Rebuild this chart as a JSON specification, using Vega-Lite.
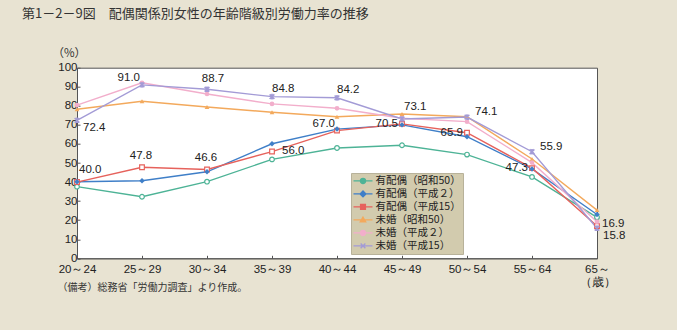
{
  "$schema": "https://vega.github.io/schema/vega-lite/v6.json",
  "width": 520,
  "height": 190.6,
  "autosize": {"type": "none"},
  "padding": {"left": 77, "top": 67.7, "right": 80, "bottom": 71.7},
  "background": "#e8e3d2",
  "config": {
    "view": {"fill": "white", "stroke": "#555555", "strokeWidth": 1},
    "font": "Liberation Sans"
  },
  "title": {
    "text": "第1－2－9図　配偶関係別女性の年齢階級別労働力率の推移",
    "anchor": "start",
    "frame": "group",
    "font": "Noto Sans CJK JP",
    "fontSize": 13,
    "fontWeight": "normal",
    "color": "#333333",
    "dx": -55,
    "dy": -27,
    "offset": 0
  },
  "data": {
    "values": [
      {"series": "有配偶（昭和50）", "age": "20～24", "value": 37.6},
      {"series": "有配偶（昭和50）", "age": "25～29", "value": 32.3},
      {"series": "有配偶（昭和50）", "age": "30～34", "value": 40.2},
      {"series": "有配偶（昭和50）", "age": "35～39", "value": 51.9},
      {"series": "有配偶（昭和50）", "age": "40～44", "value": 57.9},
      {"series": "有配偶（昭和50）", "age": "45～49", "value": 59.3},
      {"series": "有配偶（昭和50）", "age": "50～54", "value": 54.4},
      {"series": "有配偶（昭和50）", "age": "55～64", "value": 42.7},
      {"series": "有配偶（昭和50）", "age": "65～", "value": 21.5},
      {"series": "有配偶（平成２）", "age": "20～24", "value": 40.2},
      {"series": "有配偶（平成２）", "age": "25～29", "value": 40.7},
      {"series": "有配偶（平成２）", "age": "30～34", "value": 45.4},
      {"series": "有配偶（平成２）", "age": "35～39", "value": 60.1},
      {"series": "有配偶（平成２）", "age": "40～44", "value": 67.8},
      {"series": "有配偶（平成２）", "age": "45～49", "value": 70.0},
      {"series": "有配偶（平成２）", "age": "50～54", "value": 63.8},
      {"series": "有配偶（平成２）", "age": "55～64", "value": 46.9},
      {"series": "有配偶（平成２）", "age": "65～", "value": 23.0},
      {"series": "有配偶（平成15）", "age": "20～24", "value": 40.0},
      {"series": "有配偶（平成15）", "age": "25～29", "value": 47.8},
      {"series": "有配偶（平成15）", "age": "30～34", "value": 46.6},
      {"series": "有配偶（平成15）", "age": "35～39", "value": 56.0},
      {"series": "有配偶（平成15）", "age": "40～44", "value": 67.0},
      {"series": "有配偶（平成15）", "age": "45～49", "value": 70.5},
      {"series": "有配偶（平成15）", "age": "50～54", "value": 65.9},
      {"series": "有配偶（平成15）", "age": "55～64", "value": 47.3},
      {"series": "有配偶（平成15）", "age": "65～", "value": 16.9},
      {"series": "未婚（昭和50）", "age": "20～24", "value": 78.2},
      {"series": "未婚（昭和50）", "age": "25～29", "value": 82.4},
      {"series": "未婚（昭和50）", "age": "30～34", "value": 79.4},
      {"series": "未婚（昭和50）", "age": "35～39", "value": 76.6},
      {"series": "未婚（昭和50）", "age": "40～44", "value": 74.3},
      {"series": "未婚（昭和50）", "age": "45～49", "value": 75.7},
      {"series": "未婚（昭和50）", "age": "50～54", "value": 74.3},
      {"series": "未婚（昭和50）", "age": "55～64", "value": 52.1},
      {"series": "未婚（昭和50）", "age": "65～", "value": 25.3},
      {"series": "未婚（平成２）", "age": "20～24", "value": 80.4},
      {"series": "未婚（平成２）", "age": "25～29", "value": 92.1},
      {"series": "未婚（平成２）", "age": "30～34", "value": 86.2},
      {"series": "未婚（平成２）", "age": "35～39", "value": 81.0},
      {"series": "未婚（平成２）", "age": "40～44", "value": 78.7},
      {"series": "未婚（平成２）", "age": "45～49", "value": 73.5},
      {"series": "未婚（平成２）", "age": "50～54", "value": 71.7},
      {"series": "未婚（平成２）", "age": "55～64", "value": 50.2},
      {"series": "未婚（平成２）", "age": "65～", "value": 19.2},
      {"series": "未婚（平成15）", "age": "20～24", "value": 72.4},
      {"series": "未婚（平成15）", "age": "25～29", "value": 91.0},
      {"series": "未婚（平成15）", "age": "30～34", "value": 88.7},
      {"series": "未婚（平成15）", "age": "35～39", "value": 84.8},
      {"series": "未婚（平成15）", "age": "40～44", "value": 84.2},
      {"series": "未婚（平成15）", "age": "45～49", "value": 73.1},
      {"series": "未婚（平成15）", "age": "50～54", "value": 74.1},
      {"series": "未婚（平成15）", "age": "55～64", "value": 55.9},
      {"series": "未婚（平成15）", "age": "65～", "value": 15.8}
    ]
  },
  "encoding": {
    "x": {
      "field": "age",
      "type": "ordinal",
      "sort": ["20～24", "25～29", "30～34", "35～39", "40～44", "45～49", "50～54", "55～64", "65～"],
      "scale": {"type": "point", "padding": 0},
      "axis": {
        "labelAngle": 0,
        "labelFont": "Liberation Sans",
        "labelFontSize": 11.5,
        "labelColor": "#222222",
        "labelPadding": 8,
        "labelLineHeight": 13,
        "labelExpr": "datum.value === '65～' ? ['65～', '　 （歳）'] : datum.value",
        "domainColor": "#555555",
        "tickColor": "#555555",
        "tickSize": -3,
        "title": "（備考）総務省「労働力調査」より作成。",
        "titleFont": "Noto Sans CJK JP",
        "titleFontSize": 10,
        "titleFontWeight": "normal",
        "titleColor": "#333333",
        "titleAlign": "left",
        "titleBaseline": "alphabetic",
        "titleX": -20,
        "titleY": 32
      }
    },
    "y": {
      "field": "value",
      "type": "quantitative",
      "scale": {"domain": [0, 100], "nice": false},
      "axis": {
        "values": [0, 10, 20, 30, 40, 50, 60, 70, 80, 90, 100],
        "grid": false,
        "labelFont": "Liberation Sans",
        "labelFontSize": 11.5,
        "labelColor": "#222222",
        "labelPadding": 3,
        "domainColor": "#555555",
        "tickColor": "#555555",
        "tickSize": -3,
        "title": "（%）",
        "titleFont": "Noto Sans CJK JP",
        "titleFontSize": 11.5,
        "titleFontWeight": "normal",
        "titleColor": "#333333",
        "titleAngle": 0,
        "titleAlign": "left",
        "titleBaseline": "alphabetic",
        "titleX": -25,
        "titleY": -11
      }
    }
  },
  "layer": [
    {
      "mark": {"type": "line", "strokeWidth": 1.4},
      "encoding": {
        "color": {
          "field": "series",
          "type": "nominal",
          "scale": {
            "domain": ["有配偶（昭和50）", "有配偶（平成２）", "有配偶（平成15）", "未婚（昭和50）", "未婚（平成２）", "未婚（平成15）"],
            "range": ["#4db396", "#3f7fc8", "#e6625c", "#f3a95c", "#f2aecb", "#a39bd6"]
          },
          "legend": {
            "orient": "none",
            "legendX": 274,
            "legendY": 105.3,
            "title": null,
            "fillColor": "#d2cbae",
            "strokeColor": "#b8b29a",
            "padding": 1.5,
            "labelFont": "Noto Sans CJK JP",
            "labelFontSize": 10.5,
            "labelColor": "#222222",
            "labelOffset": 2,
            "symbolSize": 361,
            "symbolStrokeWidth": 1.4,
            "clipHeight": 12.8,
            "rowPadding": 0,
            "encode": {
              "symbols": {
                "update": {
                  "shape": {"signal": "datum.value === '有配偶（昭和50）' ? 'M-1,0H-0.27M0.27,0H1M0.27,0A0.27,0.27 0 1,1 -0.27,0A0.27,0.27 0 1,1 0.27,0Z' : datum.value === '有配偶（平成２）' ? 'M-1,0H1M0,-0.3L0.3,0L0,0.3L-0.3,0Z' : datum.value === '有配偶（平成15）' ? 'M-1,0H-0.25M0.25,0H1M-0.25,-0.25H0.25V0.25H-0.25Z' : datum.value === '未婚（昭和50）' ? 'M-1,0H1M0,-0.28L0.28,0.2L-0.28,0.2Z' : datum.value === '未婚（平成２）' ? 'M-1,0H1M0.25,0A0.25,0.25 0 1,1 -0.25,0A0.25,0.25 0 1,1 0.25,0Z' : 'M-1,0H1M-0.25,-0.25L0.25,0.25M-0.25,0.25L0.25,-0.25'"},
                  "fill": {"signal": "(datum.value === '有配偶（昭和50）' || datum.value === '有配偶（平成15）') ? 'white' : scale('color', datum.value)"}
                }
              }
            }
          }
        }
      }
    },
    {
      "transform": [{"filter": "datum.series === '有配偶（昭和50）' || datum.series === '有配偶（平成15）'"}],
      "mark": {"type": "point", "filled": false, "fill": "white", "size": 22, "strokeWidth": 1.2, "opacity": 1},
      "encoding": {
        "shape": {"field": "series", "type": "nominal", "scale": {"domain": ["有配偶（昭和50）", "有配偶（平成15）"], "range": ["circle", "square"]}, "legend": null},
        "color": {"field": "series", "type": "nominal", "legend": null}
      }
    },
    {
      "transform": [{"filter": "datum.series === '有配偶（平成２）'"}],
      "mark": {"type": "point", "filled": true, "shape": "diamond", "size": 30, "opacity": 1},
      "encoding": {"color": {"field": "series", "type": "nominal", "legend": null}}
    },
    {
      "transform": [{"filter": "datum.series === '未婚（昭和50）'"}],
      "mark": {"type": "point", "filled": true, "shape": "triangle-up", "size": 22, "opacity": 1},
      "encoding": {"color": {"field": "series", "type": "nominal", "legend": null}}
    },
    {
      "transform": [{"filter": "datum.series === '未婚（平成２）'"}],
      "mark": {"type": "point", "filled": true, "shape": "circle", "size": 22, "opacity": 1},
      "encoding": {"color": {"field": "series", "type": "nominal", "legend": null}}
    },
    {
      "transform": [{"filter": "datum.series === '未婚（平成15）'"}],
      "mark": {"type": "point", "filled": false, "shape": "M-1,-1L1,1M-1,1L1,-1M0,-1.2L0,1.2", "size": 22, "strokeWidth": 1.6, "opacity": 1},
      "encoding": {"color": {"field": "series", "type": "nominal", "legend": null}}
    },
    {
      "transform": [{"filter": "(datum.series === '有配偶（平成15）' && datum.age === '20～24') || (datum.series === '未婚（平成15）' && datum.age === '45～49')"}],
      "mark": {"type": "text", "align": "left", "baseline": "middle", "dx": 2, "dy": -12, "fontSize": 11.5, "color": "#222222"},
      "encoding": {"text": {"field": "value", "type": "quantitative", "format": ".1f"}}
    },
    {
      "transform": [{"filter": "datum.series === '有配偶（平成15）' && (datum.age === '25～29' || datum.age === '30～34')"}],
      "mark": {"type": "text", "align": "center", "baseline": "middle", "dx": -1, "dy": -11, "fontSize": 11.5, "color": "#222222"},
      "encoding": {"text": {"field": "value", "type": "quantitative", "format": ".1f"}}
    },
    {
      "transform": [{"filter": "datum.series === '未婚（平成15）' && (datum.age === '35～39' || datum.age === '40～44')"}],
      "mark": {"type": "text", "align": "left", "baseline": "middle", "dx": 0, "dy": -8, "fontSize": 11.5, "color": "#222222"},
      "encoding": {"text": {"field": "value", "type": "quantitative", "format": ".1f"}}
    },
    {
      "transform": [{"filter": "datum.series === '未婚（平成15）' && datum.age === '30～34'"}],
      "mark": {"type": "text", "align": "center", "baseline": "middle", "dx": 6, "dy": -10, "fontSize": 11.5, "color": "#222222"},
      "encoding": {"text": {"field": "value", "type": "quantitative", "format": ".1f"}}
    },
    {
      "transform": [{"filter": "(datum.series === '未婚（平成15）' && datum.age === '25～29') || (datum.series === '有配偶（平成15）' && datum.age === '40～44')"}],
      "mark": {"type": "text", "align": "right", "baseline": "middle", "dx": -2, "dy": -6.5, "fontSize": 11.5, "color": "#222222"},
      "encoding": {"text": {"field": "value", "type": "quantitative", "format": ".1f"}}
    },
    {
      "transform": [{"filter": "datum.series === '有配偶（平成15）' && (datum.age === '45～49' || datum.age === '50～54' || datum.age === '55～64')"}],
      "mark": {"type": "text", "align": "right", "baseline": "middle", "dx": -4, "dy": 0, "fontSize": 11.5, "color": "#222222"},
      "encoding": {"text": {"field": "value", "type": "quantitative", "format": ".1f"}}
    },
    {
      "transform": [{"filter": "datum.series === '有配偶（平成15）' && datum.age === '35～39'"}],
      "mark": {"type": "text", "align": "left", "baseline": "middle", "dx": 10, "dy": -1, "fontSize": 11.5, "color": "#222222"},
      "encoding": {"text": {"field": "value", "type": "quantitative", "format": ".1f"}}
    },
    {
      "transform": [{"filter": "datum.series === '未婚（平成15）' && (datum.age === '50～54' || datum.age === '55～64')"}],
      "mark": {"type": "text", "align": "left", "baseline": "middle", "dx": 8, "dy": -5, "fontSize": 11.5, "color": "#222222"},
      "encoding": {"text": {"field": "value", "type": "quantitative", "format": ".1f"}}
    },
    {
      "transform": [{"filter": "datum.series === '有配偶（平成15）' && datum.age === '65～'"}],
      "mark": {"type": "text", "align": "left", "baseline": "middle", "dx": 5, "dy": -2, "fontSize": 11.5, "color": "#222222"},
      "encoding": {"text": {"field": "value", "type": "quantitative", "format": ".1f"}}
    },
    {
      "transform": [{"filter": "datum.series === '未婚（平成15）' && (datum.age === '20～24' || datum.age === '65～')"}],
      "mark": {"type": "text", "align": "left", "baseline": "middle", "dx": 6, "dy": 8, "fontSize": 11.5, "color": "#222222"},
      "encoding": {"text": {"field": "value", "type": "quantitative", "format": ".1f"}}
    }
  ]
}
